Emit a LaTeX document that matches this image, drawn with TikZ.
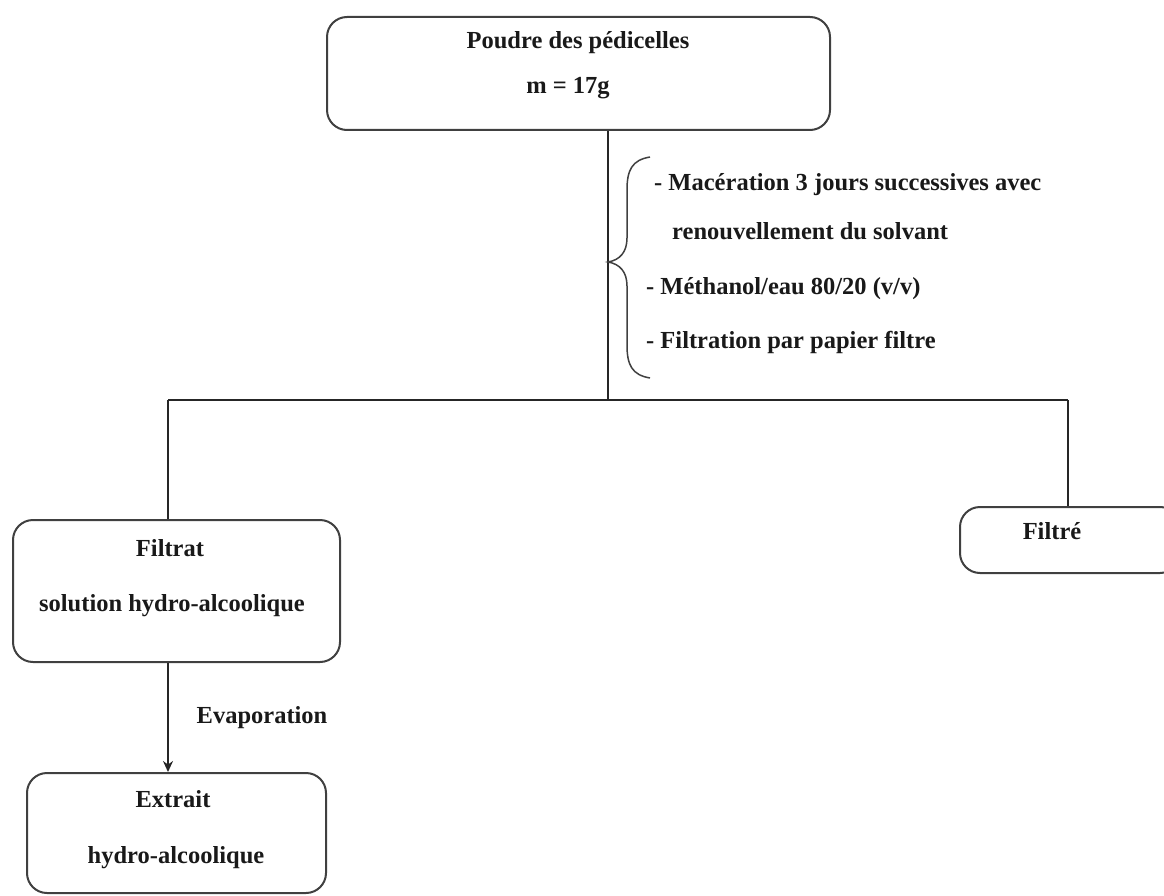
\documentclass[tikz,border=0pt]{standalone}
\usepackage{fontspec}
\setmainfont{Liberation Serif}
\usetikzlibrary{arrows.meta}
\begin{document}
\begin{tikzpicture}[x=1pt,y=-1pt,
  box/.style={draw=black!75, line width=2pt, rounded corners=20pt, inner sep=0pt},
  txt/.style={font=\fontsize{24.5}{28}\selectfont\bfseries, text=black!90, inner sep=0pt, anchor=base},
  ln/.style={draw=black!85, line width=2pt},
  arr/.style={ln, -{Stealth[length=11pt,width=10pt]}}]
\useasboundingbox (0,0) rectangle (1164,896);
% boxes
\node[box, minimum width=503pt, minimum height=113pt] (top) at (578.5,73.5) {};
\node[box, minimum width=327pt, minimum height=142pt] (filtrat) at (176.5,591) {};
\node[box, minimum width=299pt, minimum height=120pt] (extrait) at (176.5,833) {};
\node[box, minimum width=220pt, minimum height=66pt] (filtre) at (1070,540) {};
% texts
\node[txt] (t1) at (578,49) {Poudre des pédicelles};
\node[txt] (t2) at (568,94) {m = 17g};
\node[txt] (f1) at (170,556) {Filtrat};
\node[txt] (f2) at (172,611) {solution hydro-alcoolique};
\node[txt] (r1) at (1052,539) {Filtré};
\node[txt] (ev) at (262,723) {Evaporation};
\node[txt] (e1) at (173,807) {Extrait};
\node[txt] (e2) at (176,863) {hydro-alcoolique};
\node[txt, anchor=base west] (m1) at (654,191) {- Macération 3 jours successives avec};
\node[txt, anchor=base west] (m2) at (672,239) {renouvellement du solvant};
\node[txt, anchor=base west] (m3) at (646,294) {- Méthanol/eau 80/20 (v/v)};
\node[txt, anchor=base west] (m4) at (646,348) {- Filtration par papier filtre};
% connectors
\coordinate (j) at (608,400);
\coordinate (jl) at (168,400);
\coordinate (jr) at (1068,400);
\draw[ln] (top.south -| j) -- (j);
\draw[ln] (jl) -- (jr);
\draw[ln] (jl) -- (filtrat.north -| jl);
\draw[ln] (jr) -- (filtre.north -| jr);
\draw[arr] (filtrat.south -| jl) -- (extrait.north -| jl);
% brace
\draw[draw=black!75, line width=1.5pt] (650,157) .. controls (632,160) and (627,170) .. (627,190)
  -- (627,238) .. controls (627,252) and (620,260) .. (608,262)
  .. controls (620,264) and (627,272) .. (627,286)
  -- (627,345) .. controls (627,365) and (632,375) .. (650,378);
\end{tikzpicture}
\end{document}
